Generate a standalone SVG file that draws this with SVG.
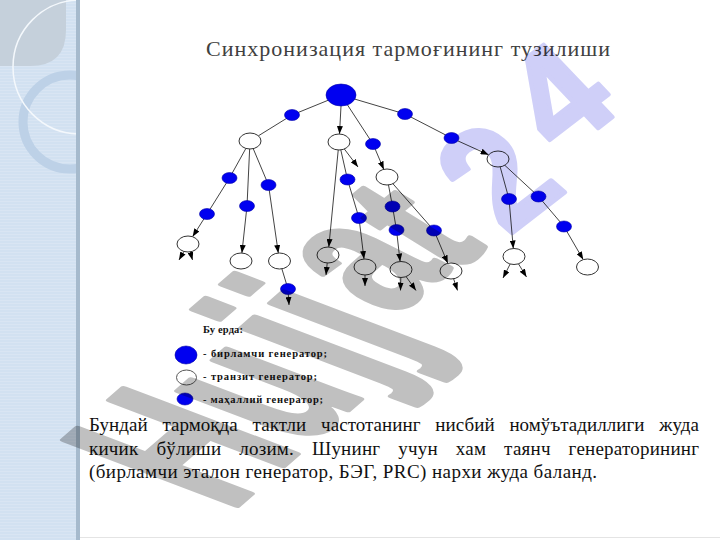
<svg xmlns="http://www.w3.org/2000/svg" width="720" height="540" viewBox="0 0 720 540">
<defs>
<style>
.ttl{font-family:"Liberation Serif","DejaVu Serif",serif;font-size:22px;fill:#404040}
.par{font-family:"Liberation Serif","DejaVu Serif",serif;font-size:19px;fill:#111}
.leg{font-family:"Liberation Serif","DejaVu Serif",serif;font-size:10.5px;font-weight:bold;fill:#111}
.e{stroke:#444;stroke-width:1;fill:none}
.a{marker-end:url(#ah)}
.w{fill:#fff;stroke:#333;stroke-width:1}
.b{fill:#0000f0;stroke:#0000a8;stroke-width:0.6}
.wm{font-family:"Liberation Sans",Arial,sans-serif;font-weight:bold;font-size:100px;stroke-width:3;stroke-linejoin:round}
.g{fill:#c0c0c0;stroke:#c0c0c0}
.l{fill:#cfcff8;stroke:#cfcff8}
</style>
<marker id="ah" viewBox="0 0 8 6" refX="8" refY="3" markerWidth="8" markerHeight="6" markerUnits="userSpaceOnUse" orient="auto"><path d="M0,0 L8,3 L0,6 z" fill="#000"/></marker>
<clipPath id="pc"><rect x="0" y="0" width="78" height="540"/></clipPath>
<pattern id="st" width="4" height="3" patternUnits="userSpaceOnUse"><rect width="4" height="1" fill="#ffffff" opacity="0.15"/></pattern>
</defs>
<rect width="720" height="540" fill="#fff"/>
<g id="panel">
<rect x="0" y="0" width="78" height="540" fill="#d2e1f1"/>
<rect x="0" y="0" width="78" height="540" fill="url(#st)"/>
<g clip-path="url(#pc)">
<path d="M0,0 H66 V30 Q66,66 30,66 H0 Z" fill="#c5d0db"/>
<circle cx="70" cy="122" r="47" fill="none" stroke="#bdd1e7" stroke-width="9"/>
<circle cx="80" cy="67" r="67" fill="none" stroke="#f4f8fc" stroke-width="1.5"/>
</g>
<rect x="76" y="0" width="4" height="540" fill="#a6bacd"/>
</g>
<text class="ttl" x="408" y="56" text-anchor="middle" textLength="404">Синхронизация тармоғининг тузилиши</text>
<g id="connectors">
<line class="e" x1="341" y1="95" x2="292" y2="115"/>
<line class="e" x1="292" y1="115" x2="250" y2="141"/>
<line class="e a" x1="341" y1="106" x2="339.5" y2="134"/>
<line class="e" x1="341" y1="95" x2="373" y2="144"/>
<line class="e a" x1="373" y1="144" x2="383.8" y2="169.4"/>
<line class="e" x1="341" y1="95" x2="405" y2="114"/>
<line class="e" x1="405" y1="114" x2="451.5" y2="138"/>
<line class="e a" x1="451.5" y1="138" x2="488.6" y2="154.8"/>
<line class="e" x1="250" y1="141" x2="229.5" y2="178"/>
<line class="e" x1="229.5" y1="178" x2="207" y2="214"/>
<line class="e a" x1="207" y1="214" x2="192.6" y2="236.7"/>
<line class="e" x1="250" y1="141" x2="247" y2="206"/>
<line class="e a" x1="247" y1="206" x2="241.9" y2="253"/>
<line class="e" x1="250" y1="141" x2="268.5" y2="185"/>
<line class="e a" x1="268.5" y1="185" x2="278.3" y2="253"/>
<line class="e" x1="279.5" y1="261" x2="288" y2="289"/>
<line class="e a" x1="288" y1="289" x2="289" y2="305"/>
<line class="e a" x1="188" y1="244" x2="179" y2="260"/>
<line class="e a" x1="188" y1="244" x2="192.5" y2="260"/>
<line class="e a" x1="339" y1="142" x2="328.8" y2="247"/>
<line class="e a" x1="339" y1="142" x2="358" y2="167"/>
<line class="e" x1="339" y1="142" x2="347.5" y2="179.5"/>
<line class="e" x1="347.5" y1="179.5" x2="359" y2="218"/>
<line class="e a" x1="359" y1="218" x2="364" y2="259"/>
<line class="e a" x1="328" y1="255" x2="326" y2="275"/>
<line class="e a" x1="365" y1="267" x2="365" y2="286"/>
<line class="e" x1="387" y1="177" x2="392.5" y2="206.5"/>
<line class="e" x1="392.5" y1="206.5" x2="396.5" y2="230"/>
<line class="e a" x1="396.5" y1="230" x2="400.1" y2="261.5"/>
<line class="e" x1="387" y1="177" x2="434" y2="230.5"/>
<line class="e a" x1="434" y1="230.5" x2="447.8" y2="263.3"/>
<line class="e a" x1="401" y1="269.5" x2="400.5" y2="290.5"/>
<line class="e a" x1="401" y1="269.5" x2="416" y2="290.5"/>
<line class="e a" x1="451" y1="271" x2="457.5" y2="290.5"/>
<line class="e" x1="498" y1="159" x2="509" y2="199"/>
<line class="e a" x1="509" y1="199" x2="513.3" y2="248.5"/>
<line class="e" x1="498" y1="159" x2="538.5" y2="196.5"/>
<line class="e" x1="538.5" y1="196.5" x2="564" y2="226.5"/>
<line class="e a" x1="564" y1="226.5" x2="583.2" y2="259.6"/>
<line class="e a" x1="514" y1="256.5" x2="503" y2="278"/>
<line class="e a" x1="514" y1="256.5" x2="526.5" y2="277"/>
</g>
<g id="n0"><ellipse class="b" cx="341" cy="95" rx="15" ry="11"/></g>
<g id="b1"><ellipse class="b" cx="292" cy="115" rx="7.5" ry="5.5"/></g>
<g id="w1"><ellipse class="w" cx="250" cy="141" rx="11" ry="8"/></g>
<g id="w2"><ellipse class="w" cx="339" cy="142" rx="11" ry="8"/></g>
<g id="b2"><ellipse class="b" cx="373" cy="144" rx="7.5" ry="5.5"/></g>
<g id="w3"><ellipse class="w" cx="387" cy="177" rx="11" ry="8"/></g>
<g id="b3"><ellipse class="b" cx="405" cy="114" rx="7.5" ry="5.5"/></g>
<g id="b4"><ellipse class="b" cx="451.5" cy="138" rx="7.5" ry="5.5"/></g>
<g id="w4"><ellipse class="w" cx="498" cy="159" rx="11" ry="8"/></g>
<g id="b5"><ellipse class="b" cx="229.5" cy="178" rx="7.5" ry="5.5"/></g>
<g id="b6"><ellipse class="b" cx="207" cy="214" rx="7.5" ry="5.5"/></g>
<g id="w5"><ellipse class="w" cx="188" cy="244" rx="11" ry="8"/></g>
<g id="b7"><ellipse class="b" cx="247" cy="206" rx="7.5" ry="5.5"/></g>
<g id="w6"><ellipse class="w" cx="241" cy="261" rx="11" ry="8"/></g>
<g id="b8"><ellipse class="b" cx="268.5" cy="185" rx="7.5" ry="5.5"/></g>
<g id="w7"><ellipse class="w" cx="279.5" cy="261" rx="11" ry="8"/></g>
<g id="b9"><ellipse class="b" cx="288" cy="289" rx="7.5" ry="5.5"/></g>
<g id="w8"><ellipse class="w" cx="328" cy="255" rx="11" ry="8"/></g>
<g id="b10"><ellipse class="b" cx="347.5" cy="179.5" rx="7.5" ry="5.5"/></g>
<g id="b11"><ellipse class="b" cx="359" cy="218" rx="7.5" ry="5.5"/></g>
<g id="w9"><ellipse class="w" cx="365" cy="267" rx="11" ry="8"/></g>
<g id="b12"><ellipse class="b" cx="392.5" cy="206.5" rx="7.5" ry="5.5"/></g>
<g id="b13"><ellipse class="b" cx="396.5" cy="230" rx="7.5" ry="5.5"/></g>
<g id="w10"><ellipse class="w" cx="401" cy="269.5" rx="11" ry="8"/></g>
<g id="b14"><ellipse class="b" cx="434" cy="230.5" rx="7.5" ry="5.5"/></g>
<g id="w11"><ellipse class="w" cx="451" cy="271" rx="11" ry="8"/></g>
<g id="b15"><ellipse class="b" cx="509" cy="199" rx="7.5" ry="5.5"/></g>
<g id="w12"><ellipse class="w" cx="514" cy="256.5" rx="11" ry="8"/></g>
<g id="b16"><ellipse class="b" cx="538.5" cy="196.5" rx="7.5" ry="5.5"/></g>
<g id="b17"><ellipse class="b" cx="564" cy="226.5" rx="7.5" ry="5.5"/></g>
<g id="w13"><ellipse class="w" cx="587.5" cy="267" rx="11" ry="8"/></g>
<g id="legend">
<text class="leg" x="203" y="333" textLength="40">Бу ерда:</text>
<ellipse class="b" cx="186" cy="355" rx="11" ry="9"/>
<text class="leg" x="203" y="357" textLength="124">- бирламчи генератор;</text>
<ellipse cx="186.5" cy="377.5" rx="10" ry="7.5" fill="#fff" stroke="#555" stroke-width="1"/>
<text class="leg" x="203" y="380" textLength="114">- транзит генератор;</text>
<ellipse class="b" cx="185" cy="399" rx="8" ry="6"/>
<text class="leg" x="203" y="403" textLength="120">- маҳаллий генератор;</text>
</g>
<g id="paragraph">
<text class="par" x="89" y="431" word-spacing="10" textLength="610">Бундай тармоқда тактли частотанинг нисбий номўътадиллиги жуда</text>
<text class="par" x="89" y="455" word-spacing="13" textLength="610">кичик бўлиши лозим. Шунинг учун хам таянч генераторининг</text>
<text class="par" x="89" y="478" textLength="508">(бирламчи эталон генератор, БЭГ, PRC) нархи жуда баланд.</text>
</g>
<g id="watermark" style="mix-blend-mode:multiply">
<text class="wm g" transform="matrix(1.036 -0.896 2.5 0.95 229 512)">H</text>
<text class="wm g" transform="matrix(1.036 -0.896 2.5 0.95 303.8 447.3)">u</text>
<text class="wm g" transform="matrix(1.036 -0.896 2.5 0.95 366.8 385.3)">j</text>
<text class="wm g" transform="matrix(1.036 -0.896 2.5 0.95 395.8 360.3)">j</text>
<text class="wm g" transform="matrix(1.05 -0.88 2.0 1.0 392.7 317.4)">a</text>
<text class="wm g" transform="matrix(1.07 -0.87 1.7 1.05 452 275)">t</text>
<text class="wm l" transform="matrix(1.1 -0.85 1.2 1.05 508 236)">2</text>
<text class="wm l" transform="matrix(1.1 -0.85 1.0 1.05 562 156)">4</text>
</g>
<rect x="80" y="537" width="640" height="1" fill="#e4e4e4"/>
</svg>
